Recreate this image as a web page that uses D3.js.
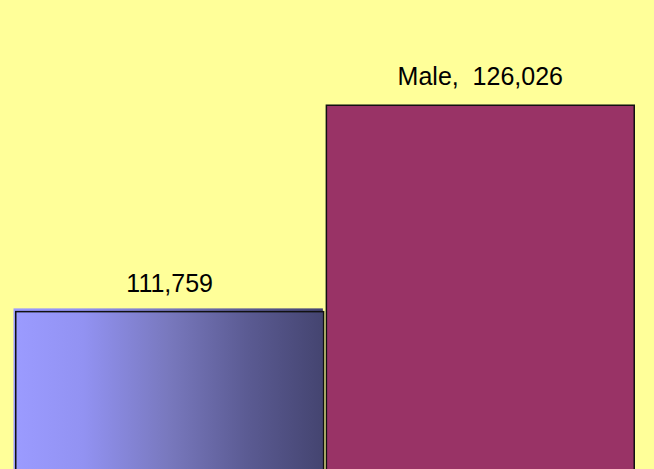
<!DOCTYPE html>
<head>
  <meta charset="utf-8">
  <style>
    body { margin: 0; background: #FFFF99; }
    svg { display: block; }
    svg text {
      font-family: "Liberation Sans", Arial, sans-serif;
      font-size: 25px;
      fill: black;
    }
  </style>
</head>

<body>
<script src="https://d3js.org/d3.v7.min.js"></script>

<script>
  // data
  var categories = ["Female", "Male"];
  var values = [111759, 126026];
  var labels = ["111,759", "Male,  126,026"];

  var width = 654,
      height = 469;

  // axis starts well above zero, so bars run off the bottom
  var yMin = 100000,
      yMax = 130000;

  var svg = d3.select("body")
    .append("svg")
      .attr("width", width)
      .attr("height", height);

  svg.append("rect")
      .attr("width", width)
      .attr("height", height)
      .style("fill", "#FFFF99");

  var defs = svg.append("defs");
  var grad = defs.append("linearGradient")
      .attr("id", "blueGrad")
      .attr("x1", "0%").attr("y1", "0%")
      .attr("x2", "100%").attr("y2", "0%");
  grad.append("stop").attr("offset", "0%").attr("stop-color", "#9b9bff");
  grad.append("stop").attr("offset", "22%").attr("stop-color", "#9292f2");
  grad.append("stop").attr("offset", "50%").attr("stop-color", "#7878bd");
  grad.append("stop").attr("offset", "75%").attr("stop-color", "#5b5b93");
  grad.append("stop").attr("offset", "100%").attr("stop-color", "#444470");

  var xScale = d3.scaleBand()
      .domain(categories)
      .range([15, 635])
      .paddingInner(0.004);

  var yScale = d3.scaleLinear()
      .domain([yMin, yMax])
      .range([481, 47]);

  var fills = ["url(#blueGrad)", "#993366"];

  var bars = svg.selectAll("g.bar")
    .data(categories)
    .enter().append("g")
      .classed("bar", true);

  // left bar has its fill nudged up-left of the outline
  bars.filter(function (d, i) { return i === 0; })
    .append("rect")
      .attr("x", function (d) { return xScale(d) - 1.5; })
      .attr("y", function (d, i) { return yScale(values[0]) - 2.5; })
      .attr("width", xScale.bandwidth())
      .attr("height", function () { return yScale(yMin) - yScale(values[0]) + 5; })
      .style("fill", "url(#blueGrad)");

  bars.append("rect")
      .attr("x", function (d) { return xScale(d) + 0.75; })
      .attr("y", function (d) { return yScale(values[categories.indexOf(d)]) + 0.75; })
      .attr("width", xScale.bandwidth() - 1.5)
      .attr("height", function (d) { return yScale(yMin) - yScale(values[categories.indexOf(d)]); })
      .style("fill", function (d) { return fills[categories.indexOf(d)]; })
      .style("stroke", "#111")
      .style("stroke-width", "1.5px");

  // value labels
  bars.append("text")
      .attr("x", function (d) { return xScale(d) + xScale.bandwidth() / 2; })
      .attr("y", function (d) { return yScale(values[categories.indexOf(d)]) - 19; })
      .attr("xml:space", "preserve")
      .style("white-space", "pre")
      .style("text-anchor", "middle")
      .text(function (d) { return labels[categories.indexOf(d)]; });

</script>
</body>
</html>
